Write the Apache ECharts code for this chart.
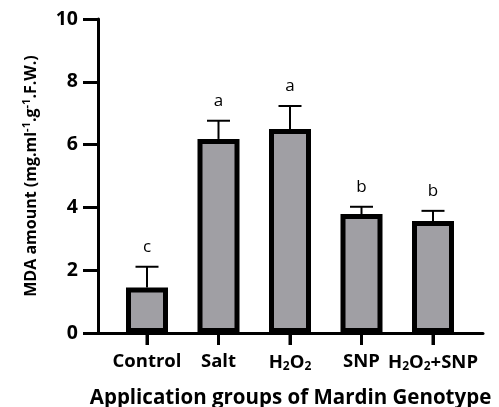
<!DOCTYPE html>
<html>
<head>
<meta charset="utf-8">
<script src="https://cdn.jsdelivr.net/npm/echarts@6/dist/echarts.min.js"></script>
<style>
  html, body { margin: 0; padding: 0; background: #fff; }
  #chart { width: 499px; height: 407px; }
</style>
</head>
<body>
<div id="chart"></div>
<script>
// groups on the x axis
const categories = ['Control', 'Salt', 'H2O2', 'SNP', 'H2O2+SNP'];
// mean MDA amount
const means = [1.45, 6.18, 6.5, 3.79, 3.57];
// upper end of error bar (mean + SD)
const upper = [2.11, 6.76, 7.23, 4.02, 3.89];
// significance letters
const letters = ['c', 'a', 'a', 'b', 'b'];
const yTicks = [0, 2, 4, 6, 8, 10];

const font = '"Open Sans", sans-serif';
const chart = echarts.init(document.getElementById('chart'));

const errData = means.map((v, i) => [i, v, upper[i], letters[i]]);

const subLabel = s => s.replace(/2/g, '{sub|2}');

const option = {
    animation: false,
    // grid 0 holds the bars, grid 1 only draws the longer axis frame
    grid: [
        { left: 111.25, right: 30.25, top: 19, bottom: 74, outerBoundsMode: 'none' },
        { left: 98, right: 16, top: 19, bottom: 74, outerBoundsMode: 'none' }
    ],
    xAxis: [
        {
            type: 'category',
            gridIndex: 0,
            data: categories,
            axisLine: { show: true, onZero: false, lineStyle: { color: '#000', width: 3 } },
            axisTick: { show: true, inside: false, alignWithLabel: true, length: 12, lineStyle: { color: '#000', width: 3 } },
            axisLabel: {
                interval: 0,
                margin: 19,
                fontFamily: font,
                fontWeight: 'bold',
                fontSize: 18.5,
                color: '#000',
                formatter: subLabel,
                rich: {
                    sub: { fontFamily: font, fontWeight: 'bold', fontSize: 12, color: '#000', padding: [9, 0, 0, 0] }
                }
            },
            splitLine: { show: false }
        },
        {
            type: 'value',
            gridIndex: 1,
            min: 0,
            max: 1,
            name: 'Application groups of Mardin Genotype',
            nameLocation: 'middle',
            nameGap: 55,
            nameTextStyle: { fontFamily: font, fontWeight: 'bold', fontSize: 20.5, color: '#000' },
            axisLine: { show: true, onZero: false, lineStyle: { color: '#000', width: 3 } },
            axisTick: { show: false },
            axisLabel: { show: false },
            splitLine: { show: false }
        }
    ],
    yAxis: [
        {
            type: 'value',
            gridIndex: 0,
            min: yTicks[0],
            max: yTicks[yTicks.length - 1],
            axisLine: { show: false },
            axisTick: { show: false },
            axisLabel: { show: false },
            splitLine: { show: false }
        },
        {
            type: 'value',
            gridIndex: 1,
            min: yTicks[0],
            max: yTicks[yTicks.length - 1],
            interval: 2,
            name: 'MDA amount (mg.ml{sup|-1}.g{sup|-1}.F.W.)',
            nameLocation: 'middle',
            nameRotate: 90,
            nameGap: 56,
            nameTextStyle: {
                fontFamily: font, fontWeight: 'bold', fontSize: 16, color: '#000',
                rich: { sup: { fontFamily: font, fontWeight: 'bold', fontSize: 11, color: '#000', padding: [0, 0, 10, 0] } }
            },
            axisLine: { show: true, onZero: false, lineStyle: { color: '#000', width: 3 } },
            axisTick: { show: true, length: 15, lineStyle: { color: '#000', width: 3 } },
            axisLabel: { margin: 20, fontFamily: font, fontWeight: 'bold', fontSize: 19.5, color: '#000' },
            splitLine: { show: false }
        }
    ],
    series: [
        {
            type: 'bar',
            xAxisIndex: 0,
            yAxisIndex: 0,
            data: means,
            barWidth: 42,
            itemStyle: { color: '#a09fa4', borderColor: '#000', borderWidth: 5 },
            z: 3
        },
        {
            // error bars and letters
            type: 'custom',
            xAxisIndex: 0,
            yAxisIndex: 0,
            data: errData,
            z: 2,
            renderItem: function(params, api) {
                const x = api.value(0);
                const base = api.coord([x, api.value(1)]);
                const top = api.coord([x, api.value(2)]);
                const half = 11.5;
                return {
                    type: 'group',
                    children: [
                        { type: 'line', shape: { x1: base[0], y1: base[1], x2: top[0], y2: top[1] }, style: { stroke: '#000', lineWidth: 2 } },
                        { type: 'line', shape: { x1: top[0] - half, y1: top[1], x2: top[0] + half, y2: top[1] }, style: { stroke: '#000', lineWidth: 2 } },
                        { type: 'text', x: top[0], y: top[1] - 20, style: { text: api.value(3), fontFamily: font, fontSize: 17, fill: '#000', align: 'center', verticalAlign: 'middle' } }
                    ]
                };
            }
        }
    ]
};
chart.setOption(option);

// category ticks under the axis, placed through the chart's own scale
const tickMarks = categories.map((c, i) => {
    const p = chart.convertToPixel({ xAxisIndex: 0, yAxisIndex: 0 }, [i, 0]);
    return { type: 'rect', z: 100, shape: { x: p[0] - 1.5, y: p[1], width: 3, height: 12 }, style: { fill: '#000' } };
});
chart.setOption({ graphic: tickMarks });
</script>
</body>
</html>
